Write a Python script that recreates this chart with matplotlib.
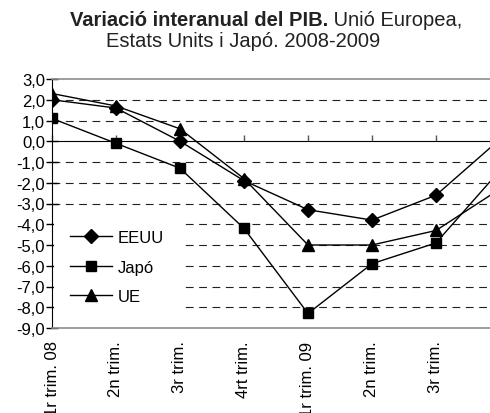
import matplotlib
matplotlib.use("Agg")
import matplotlib.pyplot as plt
from matplotlib.ticker import FuncFormatter

plt.rcParams['font.family'] = ['Liberation Sans', 'DejaVu Sans']

# data (variació interanual, %)
quarters = ['1r trim. 08', '2n trim.', '3r trim.', '4rt trim.',
            '1r trim. 09', '2n trim.', '3r trim.', '4rt trim.']
eeuu = [2.0, 1.6, 0.0, -1.9, -3.3, -3.8, -2.6, 0.1]
japo = [1.1, -0.1, -1.3, -4.2, -8.3, -5.9, -4.9, -1.4]
ue = [2.3, 1.7, 0.6, -1.8, -5.0, -5.0, -4.3, -2.3]
grid_vals = [2, 1, -1, -2, -3, -4, -5, -6, -7, -8]

fig = plt.figure(figsize=(4.9, 4.14), dpi=100)
# plot area runs past the right edge, as in the original (cropped) chart
ax = fig.add_axes([52 / 490, 1 - 329 / 414, 448 / 490, 249 / 414])

x = list(range(len(quarters)))
ax.plot(x, eeuu, color='black', lw=1.0, marker='D', ms=7, label='EEUU', zorder=5)
ax.plot(x, japo, color='black', lw=1.0, marker='s', ms=7, label='Japó', zorder=5)
ax.plot(x, ue, color='black', lw=1.0, marker='^', ms=8.5, label='UE', zorder=5)

ax.set_xlim(0, len(quarters) - 1)
ax.set_ylim(-9, 3)

# dashed gridlines
ax.hlines(grid_vals, 0, len(quarters) - 1, colors='#222222', linestyles=(0, (7, 5)),
          lw=0.8, zorder=1)

# y axis
ax.set_yticks(range(-9, 4))
ax.yaxis.set_major_formatter(FuncFormatter(lambda v, p: f"{v:.1f}".replace('.', ',')))
ax.tick_params(axis='y', direction='inout', length=8, width=1, labelsize=12, pad=1)

# category labels at the bottom, no ticks there (last one falls outside the picture)
ax.set_xticks(x[:-1])
ax.set_xticklabels(quarters[:-1], rotation=90, fontsize=12)
ax.tick_params(axis='x', length=0, pad=9)

for s in ['top', 'bottom']:
    ax.spines[s].set_color('#8c8c8c')
    ax.spines[s].set_linewidth(1.2)
ax.spines['left'].set_color('black')
ax.spines['right'].set_visible(False)

# zero line with tick marks
zero = ax.secondary_xaxis(9 / 12)
zero.set_xticks(x)
zero.set_xticklabels([])
zero.tick_params(direction='out', length=4, color='#555555', width=1)
zero.spines['bottom'].set_color('#8c8c8c')
zero.spines['bottom'].set_linewidth(1.2)

leg = ax.legend(loc='upper left', bbox_to_anchor=(0.004, 0.46), fontsize=12,
                frameon=True, facecolor='white', edgecolor='none', framealpha=1,
                fancybox=False, handlelength=2.5, handletextpad=0.35,
                labelspacing=0.87, borderpad=1.0, borderaxespad=0)
leg.set_zorder(4)

t1 = fig.text(70 / 490, 1 - 26 / 414, 'Variació interanual del PIB.', fontsize=14.5,
              fontweight='bold', color='#222222', va='baseline', ha='left')
ax.annotate(' Unió Europea,', xy=(1, 0), xycoords=t1, va='bottom', ha='left',
            fontsize=14.5, color='#222222', annotation_clip=False)
fig.text(243 / 490, 1 - 47 / 414, 'Estats Units i Japó. 2008-2009', fontsize=14.5,
         color='#222222', va='baseline', ha='center')

fig.savefig('out.png', dpi=100)
